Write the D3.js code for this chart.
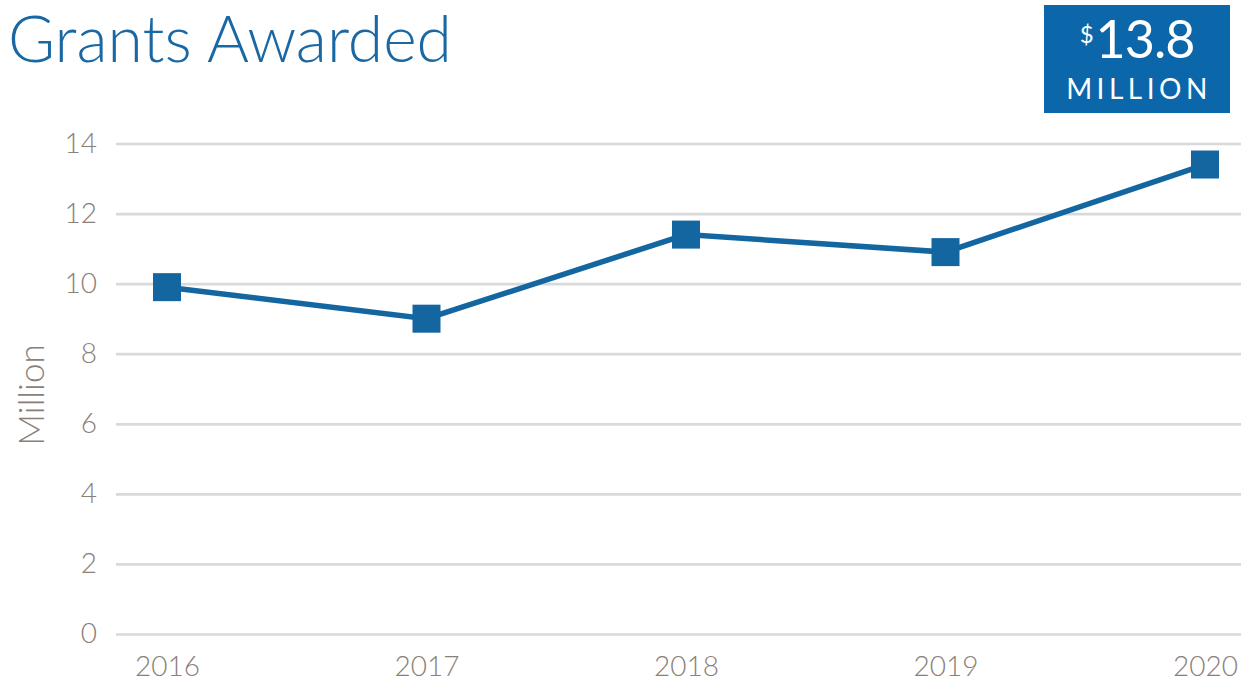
<!DOCTYPE html>
<html>
<head>
    <title>Grants Awarded</title>
    <script src="https://d3js.org/d3.v7.min.js"></script>
    <style>
        body { margin: 0; background: #fff; }
        text { font-family: Lato, "Open Sans", sans-serif; }
    </style>
</head>
<body>
    <script>
        var years = ["2016", "2017", "2018", "2019", "2020"];
        var grants = [9.9, 9.0, 11.4, 10.9, 13.4];
        var yTicks = [0, 2, 4, 6, 8, 10, 12, 14];
        var badgeValue = "13.8";

        var width = 1243, height = 685;
        var blue = "#1466a1";
        var grey = "#8a7f79";

        var svg = d3.select("body")
            .append("svg")
            .attr("width", width)
            .attr("height", height);

        var x = d3.scalePoint()
            .domain(years)
            .range([167, 1205]);

        var y = d3.scaleLinear()
            .domain([0, 14])
            .range([634, 143.5]);

        // shrink or grow a text so it spans a given width
        function fitWidth(sel, w) {
            var size = parseFloat(sel.attr("font-size"));
            var len = sel.node().getComputedTextLength();
            sel.attr("font-size", size * w / len);
        }

        // title
        var title = svg.append("text")
            .attr("x", 8)
            .attr("y", 62)
            .attr("font-size", 60)
            .attr("font-weight", 300)
            .attr("fill", "#1a68a3")
            .text("Grants Awarded");
        fitWidth(title, 444);

        // badge
        svg.append("rect")
            .attr("x", 1044)
            .attr("y", 5)
            .attr("width", 186)
            .attr("height", 108)
            .attr("fill", "#0b67aa");

        var big = svg.append("text")
            .attr("x", 1137)
            .attr("y", 58)
            .attr("text-anchor", "middle")
            .attr("fill", "#fff");
        big.append("tspan")
            .attr("font-size", 24)
            .attr("dy", -15)
            .text("$");
        big.append("tspan")
            .attr("font-size", 52)
            .attr("dy", 15)
            .attr("dx", 2)
            .attr("letter-spacing", -1)
            .text(badgeValue);

        svg.append("text")
            .attr("x", 1139)
            .attr("y", 99)
            .attr("text-anchor", "middle")
            .attr("font-size", 28)
            .attr("letter-spacing", 4.5)
            .attr("fill", "#fff")
            .text("MILLION");

        // gridlines + y labels
        var yAxis = svg.append("g")
            .attr("transform", "translate(116,0)")
            .call(d3.axisLeft(y).tickValues(yTicks).tickSize(-(1241 - 116)).tickPadding(19));

        yAxis.select(".domain").remove();
        yAxis.selectAll(".tick line")
            .attr("stroke", "#d9d9d9")
            .attr("stroke-width", 2.7);
        yAxis.selectAll(".tick text")
            .attr("fill", grey)
            .attr("font-size", 28)
            .attr("font-weight", 300)
            .attr("font-family", "Lato, sans-serif");

        // x labels
        var xAxis = svg.append("g")
            .attr("transform", "translate(0,656)")
            .call(d3.axisBottom(x).tickSize(0).tickPadding(0));

        xAxis.select(".domain").remove();
        xAxis.selectAll(".tick text")
            .attr("fill", grey)
            .attr("font-size", 28)
            .attr("font-weight", 300)
            .attr("font-family", "Lato, sans-serif");

        // axis title
        svg.append("text")
            .attr("transform", "translate(44,395) rotate(-90)")
            .attr("text-anchor", "middle")
            .attr("font-size", 35)
            .attr("font-weight", 300)
            .attr("fill", grey)
            .text("Million");

        // line
        var line = d3.line()
            .x(function(d, i) { return x(years[i]); })
            .y(function(d) { return y(d); });

        svg.append("path")
            .datum(grants)
            .attr("d", line)
            .attr("fill", "none")
            .attr("stroke", blue)
            .attr("stroke-width", 5.5);

        var size = 28;
        svg.selectAll(".marker")
            .data(grants)
            .enter()
            .append("rect")
            .attr("class", "marker")
            .attr("x", function(d, i) { return x(years[i]) - size / 2; })
            .attr("y", function(d) { return y(d) - size / 2; })
            .attr("width", size)
            .attr("height", size)
            .attr("fill", blue);
    </script>
</body>
</html>
